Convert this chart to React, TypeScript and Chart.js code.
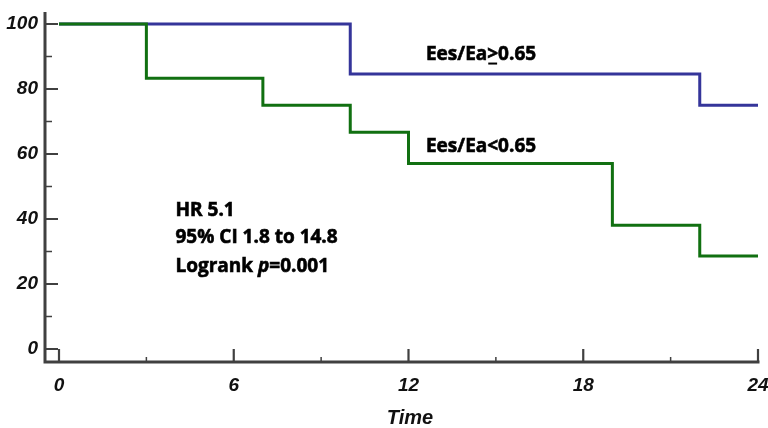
import React, { useEffect, useRef } from "react";
import { Chart, registerables } from "chart.js";

Chart.register(...registerables);

// Kaplan-Meier data (time in months, survival %)
const highTimes = [0, 10, 22, 24];
const highSurvival = [100, 84.6, 75, 75];
const lowTimes = [0, 3, 7, 10, 12, 19, 22, 24];
const lowSurvival = [100, 83.3, 75, 66.7, 57.1, 38.1, 28.6, 28.6];

const xTickValues = [0, 6, 12, 18, 24];
const xMinorValues = [3, 9, 15, 21];
const yTickValues = [0, 20, 40, 60, 80, 100];
const yMinorValues = [10, 30, 50, 70, 90];

const highLabel = ["Ees/Ea", ">", "0.65"];
const lowLabel = "Ees/Ea<0.65";
const statsLines = ["HR 5.1", "95% CI 1.8 to 14.8", "Logrank |p|=0.001"];
const xTitle = "Time";

const BLUE = "#35359a";
const GREEN = "#117011";
const AXIS = "#404040";
const TICK_FAMILY = "'Liberation Sans', Arial, sans-serif";
const TICK_FONT = { family: TICK_FAMILY, size: 19, weight: "bold" as const, style: "italic" as const };
const ANN_FONT = "bold 19px 'Open Sans', Lato, sans-serif";

const fillBold = (ctx: any, text: string, x: number, y: number) => {
  ctx.fillText(text, x, y);
  ctx.strokeText(text, x, y);
};

const axesPlugin = {
  id: "kmAxes",
  afterDraw(chart: any) {
    const { ctx, chartArea } = chart;
    const xs = chart.scales.x;
    const ys = chart.scales.y;
    const axisX = chartArea.left - 14;
    const axisY = chartArea.bottom + 13;
    ctx.save();
    ctx.strokeStyle = AXIS;
    ctx.lineCap = "butt";
    // axis lines
    ctx.lineWidth = 3;
    ctx.beginPath();
    ctx.moveTo(axisX, chartArea.top - 12);
    ctx.lineTo(axisX, axisY + 1.5);
    ctx.moveTo(axisX - 1.5, axisY);
    ctx.lineTo(xs.getPixelForValue(24) + 1.5, axisY);
    ctx.stroke();
    // major ticks
    ctx.lineWidth = 2.2;
    ctx.beginPath();
    yTickValues.forEach((v) => {
      const py = ys.getPixelForValue(v);
      ctx.moveTo(axisX, py);
      ctx.lineTo(axisX + 13, py);
    });
    xTickValues.forEach((v) => {
      const px = xs.getPixelForValue(v);
      ctx.moveTo(px, axisY);
      ctx.lineTo(px, axisY - 13);
    });
    ctx.stroke();
    // minor ticks
    ctx.lineWidth = 1.5;
    ctx.beginPath();
    yMinorValues.forEach((v) => {
      const py = ys.getPixelForValue(v);
      ctx.moveTo(axisX, py);
      ctx.lineTo(axisX + 7, py);
    });
    xMinorValues.forEach((v) => {
      const px = xs.getPixelForValue(v);
      ctx.moveTo(px, axisY);
      ctx.lineTo(px, axisY - 5);
    });
    ctx.stroke();

    // x title
    ctx.fillStyle = "#111";
    ctx.font = "italic bold 20px " + TICK_FAMILY;
    ctx.textAlign = "center";
    ctx.textBaseline = "middle";
    ctx.fillText(xTitle, 410, 418);

    // annotations
    ctx.font = ANN_FONT;
    ctx.textAlign = "left";
    ctx.fillStyle = "#000";
    ctx.strokeStyle = "#000";
    ctx.lineWidth = 0.6;
    const hx = xs.getPixelForValue(12.6);
    const hy = ys.getPixelForValue(90.6);
    let cx = hx;
    highLabel.forEach((part, i) => {
      fillBold(ctx, part, cx, hy);
      const w = ctx.measureText(part).width;
      if (i === 1) {
        ctx.fillRect(cx + 1, hy + 8, w - 2, 2);
      }
      cx += w;
    });
    fillBold(ctx, lowLabel, hx, ys.getPixelForValue(62.4));

    const sx = xs.getPixelForValue(4.0);
    const lineYs = [42.6, 34.3, 25.4];
    statsLines.forEach((line, i) => {
      const py = ys.getPixelForValue(lineYs[i]);
      const parts = line.split("|");
      let px = sx;
      parts.forEach((part, j) => {
        ctx.font = j === 1 ? "italic " + ANN_FONT : ANN_FONT;
        fillBold(ctx, part, px, py);
        px += ctx.measureText(part).width;
      });
    });
    ctx.restore();
  },
};

const zeroPad = (s: any) => {
  s.paddingLeft = 0;
  s.paddingRight = 0;
  s.paddingTop = 0;
  s.paddingBottom = 0;
};

export default function App() {
  const ref = useRef<HTMLCanvasElement>(null);
  useEffect(() => {
    if (!ref.current) return;
    const chart = new Chart(ref.current, {
      type: "line",
      data: {
        datasets: [
          {
            label: "Ees/Ea<0.65",
            data: lowTimes.map((t, i) => ({ x: t, y: lowSurvival[i] })),
            borderColor: GREEN,
            borderWidth: 3,
            stepped: "before",
            pointRadius: 0,
            fill: false,
            clip: false as any,
          },
          {
            label: "Ees/Ea>=0.65",
            data: highTimes.map((t, i) => ({ x: t, y: highSurvival[i] })),
            borderColor: BLUE,
            borderWidth: 3,
            stepped: "before",
            pointRadius: 0,
            fill: false,
            clip: false as any,
          },
        ],
      },
      options: {
        animation: false,
        responsive: false,
        devicePixelRatio: 1,
        layout: { padding: { top: 24, right: 10, left: 0, bottom: 0 } },
        plugins: { legend: { display: false }, tooltip: { enabled: false } },
        scales: {
          x: {
            type: "linear",
            min: 0,
            max: 24,
            afterFit: (s: any) => {
              s.height = 79;
              zeroPad(s);
            },
            afterBuildTicks: (s: any) => {
              s.ticks = xTickValues.map((v) => ({ value: v }));
            },
            grid: { display: false, drawTicks: false },
            border: { display: false },
            ticks: { font: TICK_FONT, color: "#111", padding: 25, maxRotation: 0 },
          },
          y: {
            type: "linear",
            min: 0,
            max: 100,
            afterFit: (s: any) => {
              s.width = 59;
              zeroPad(s);
            },
            afterBuildTicks: (s: any) => {
              s.ticks = yTickValues.map((v) => ({ value: v }));
            },
            grid: { display: false, drawTicks: false },
            border: { display: false },
            ticks: { font: TICK_FONT, color: "#111", padding: 21 },
          },
        },
      },
      plugins: [axesPlugin],
    });
    return () => chart.destroy();
  }, []);
  return (
    <div style={{ position: "absolute", left: 0, top: 0, width: 768, height: 428, background: "#fff" }}>
      <canvas ref={ref} width={768} height={428} style={{ display: "block" }} />
    </div>
  );
}
